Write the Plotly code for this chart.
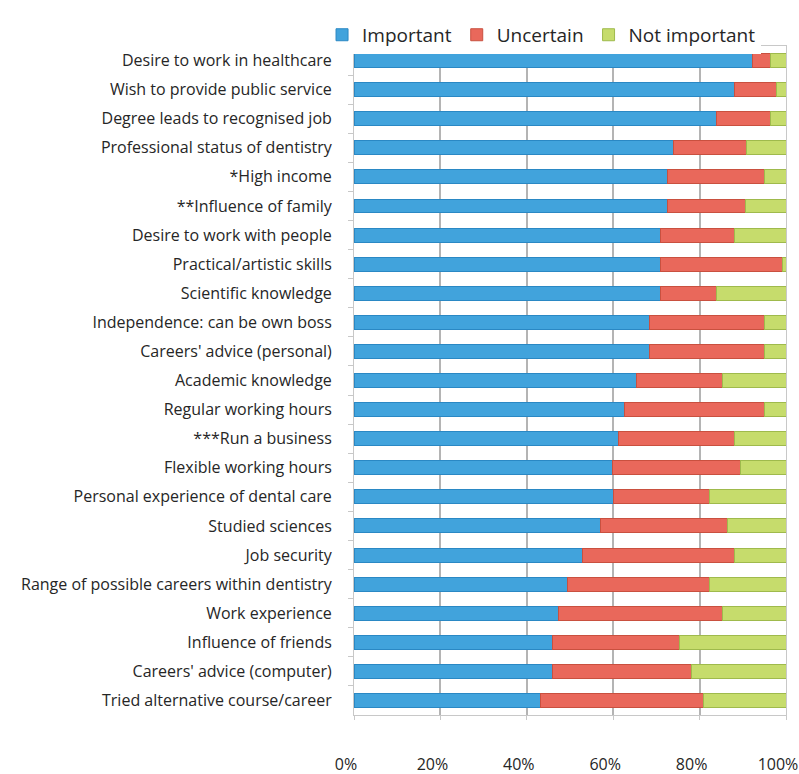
"""Motivations for studying dentistry - stacked 100% bar chart."""

import plotly.graph_objects as go

reasons = [
    'Desire to work in healthcare',
    'Wish to provide public service',
    'Degree leads to recognised job',
    'Professional status of dentistry',
    '*High income',
    '**Influence of family',
    'Desire to work with people',
    'Practical/artistic skills',
    'Scientific knowledge',
    'Independence: can be own boss',
    "Careers' advice (personal)",
    'Academic knowledge',
    'Regular working hours',
    '***Run a business',
    'Flexible working hours',
    'Personal experience of dental care',
    'Studied sciences',
    'Job security',
    'Range of possible careers within dentistry',
    'Work experience',
    'Influence of friends',
    "Careers' advice (computer)",
    'Tried alternative course/career',
]

important = [92.3, 88.0, 83.8, 73.9, 72.5, 72.5, 71.0, 71.0, 71.0, 68.4, 68.4, 65.4,
             62.7, 61.3, 59.9, 60.0, 57.1, 52.9, 49.4, 47.3, 45.9, 45.9, 43.1]
uncertain = [4.0, 9.7, 12.5, 17.0, 22.5, 18.2, 17.0, 28.2, 12.8, 26.6, 26.6, 19.8,
             32.3, 26.7, 29.5, 22.3, 29.3, 35.1, 32.9, 37.9, 29.4, 32.3, 37.8]
not_important = [3.7, 2.3, 3.7, 9.1, 5.0, 9.3, 12.0, 0.8, 16.2, 5.0, 5.0, 14.8,
                 5.0, 12.0, 10.6, 17.7, 13.6, 12.0, 17.7, 14.8, 24.7, 21.8, 19.1]

series = [
    ('Important', important, '#41a3dc', '#2a88c4'),
    ('Uncertain', uncertain, '#e9685b', '#c9503f'),
    ('Not important', not_important, '#c6dc6c', '#9fba4c'),
]

fig = go.Figure()
for name, values, color, edge in series:
    fig.add_trace(
        go.Bar(
            y=reasons,
            x=values,
            name=name,
            orientation='h',
            marker=dict(color=color, line=dict(color=edge, width=1)),
        )
    )

fig.update_layout(
    barmode='stack',
    bargap=0.52,
    width=799,
    height=774,
    margin=dict(l=354, r=13, t=46, b=59),
    paper_bgcolor='white',
    plot_bgcolor='white',
    font=dict(family='Open Sans', size=16, color='#262626'),
    # legend sits left of / above the plot area so it may use the full width
    legend=dict(
        orientation='h',
        x=-0.074,
        xanchor='left',
        y=1.045,
        yanchor='top',
        font=dict(size=19),
        itemwidth=30,
        traceorder='normal',
    ),
    showlegend=True,
)

fig.update_xaxes(
    range=[0, 100],
    tickvals=[0, 20, 40, 60, 80, 100],
    ticktext=['0%', '20%', '40%', '60%', '80%', '100%'],
    showgrid=True,
    gridcolor='#b4b4b4',
    gridwidth=1.5,
    showline=True,
    linecolor='#c8c8c8',
    mirror=True,
    ticks='outside',
    ticklen=4,
    tickcolor='#c8c8c8',
    ticklabelstandoff=31,
    ticklabelshift=-8,
    ticklabeloverflow='allow',
    automargin=False,
    zeroline=False,
)
fig.update_yaxes(
    categoryorder='array',
    categoryarray=reasons,
    autorange='reversed',
    showline=True,
    linecolor='#c8c8c8',
    mirror=True,
    ticks='outside',
    ticklen=5,
    tickcolor='#c8c8c8',
    tickson='boundaries',
    ticklabelstandoff=18,
    automargin=False,
    showgrid=False,
)

# the page body has a default margin; drop it so the figure sits at the window's corner
fig.write_html(
    'out.html',
    config={'displayModeBar': False},
    post_script="document.body.style.margin='0';document.body.style.overflow='hidden';",
)
